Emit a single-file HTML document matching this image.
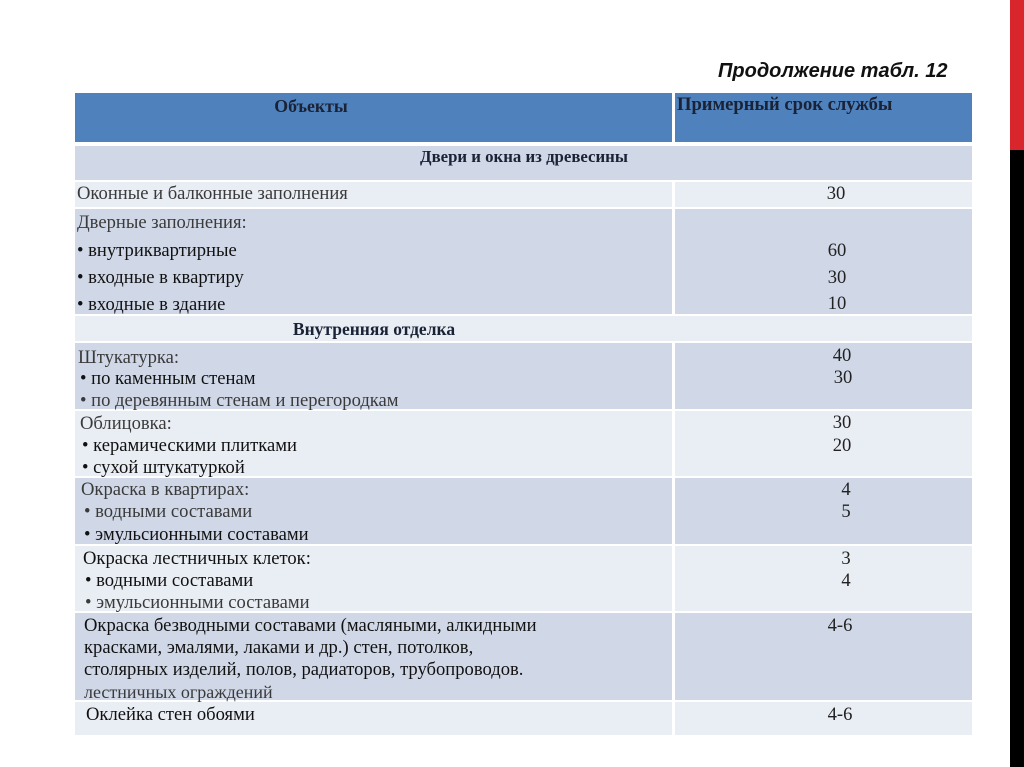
<!DOCTYPE html>
<html><head><meta charset="utf-8"><style>
html,body{margin:0;padding:0;}
body{width:1024px;height:767px;position:relative;background:#fff;overflow:hidden;font-family:"Liberation Serif","DejaVu Serif",serif;}
.r{position:absolute;}
.t{position:absolute;white-space:nowrap;line-height:22px;height:22px;font-size:18.6px;color:#3a3a3a;margin-top:1px;}
.b{color:#111;}
.v{position:absolute;white-space:nowrap;line-height:22px;height:22px;font-size:18.6px;color:#222;width:100px;text-align:center;margin-top:1px;}
.d{background:#d0d8e8;}
.l{background:#e9edf4;}
.h{font-weight:bold;color:#1a2236;}
</style></head><body>
<div class="r" style="left:1010px;top:0;width:14px;height:150px;background:#d9262d"></div>
<div class="r" style="left:1010px;top:150px;width:14px;height:617px;background:#000"></div>
<div class="t" style="left:718px;top:59px;font-family:'Liberation Sans',sans-serif;font-style:italic;font-weight:bold;font-size:20px;color:#111">Продолжение табл. 12</div>

<!-- header -->
<div class="r" style="left:75px;top:93px;width:597px;height:49px;background:#4f81bd"></div>
<div class="r" style="left:675px;top:93px;width:297px;height:49px;background:#4f81bd"></div>
<div class="t h" style="left:211px;width:200px;text-align:center;top:94px;font-size:17.8px">Объекты</div>
<div class="t h" style="left:677px;top:93px;font-size:18.6px">Примерный срок службы</div>

<!-- rows -->
<div class="r d" style="left:75px;top:146px;width:897px;height:34px"></div>
<div class="r l" style="left:75px;top:182px;width:597px;height:25px"></div>
<div class="r l" style="left:675px;top:182px;width:297px;height:25px"></div>
<div class="r d" style="left:75px;top:209px;width:597px;height:105px"></div>
<div class="r d" style="left:675px;top:209px;width:297px;height:105px"></div>
<div class="r l" style="left:75px;top:316px;width:897px;height:25px"></div>
<div class="r d" style="left:75px;top:343px;width:597px;height:66px"></div>
<div class="r d" style="left:675px;top:343px;width:297px;height:66px"></div>
<div class="r l" style="left:75px;top:411px;width:597px;height:65px"></div>
<div class="r l" style="left:675px;top:411px;width:297px;height:65px"></div>
<div class="r d" style="left:75px;top:478px;width:597px;height:66px"></div>
<div class="r d" style="left:675px;top:478px;width:297px;height:66px"></div>
<div class="r l" style="left:75px;top:546px;width:597px;height:65px"></div>
<div class="r l" style="left:675px;top:546px;width:297px;height:65px"></div>
<div class="r d" style="left:75px;top:613px;width:597px;height:87px"></div>
<div class="r d" style="left:675px;top:613px;width:297px;height:87px"></div>
<div class="r l" style="left:75px;top:702px;width:597px;height:33px"></div>
<div class="r l" style="left:675px;top:702px;width:297px;height:33px"></div>

<!-- text left -->
<div class="t h" style="left:0;width:1048px;text-align:center;top:145px;font-size:16.8px">Двери и окна из древесины</div>
<div class="t" style="left:77px;top:182px">Оконные и балконные заполнения</div>
<div class="t" style="left:77px;top:211px">Дверные заполнения:</div>
<div class="t b" style="left:77px;top:239px">• внутриквартирные</div>
<div class="t b" style="left:77px;top:266px">• входные в квартиру</div>
<div class="t b" style="left:77px;top:293px">• входные в здание</div>
<div class="t h" style="left:75px;width:598px;text-align:center;top:317px;font-size:17.5px">Внутренняя отделка</div>
<div class="t" style="left:78px;top:346px">Штукатурка:</div>
<div class="t b" style="left:80px;top:367px">• по каменным стенам</div>
<div class="t" style="left:80px;top:389px">• по деревянным стенам и перегородкам</div>
<div class="t" style="left:80px;top:412px">Облицовка:</div>
<div class="t b" style="left:82px;top:434px">• керамическими плитками</div>
<div class="t b" style="left:82px;top:456px">• сухой штукатуркой</div>
<div class="t" style="left:81px;top:478px">Окраска в квартирах:</div>
<div class="t" style="left:84px;top:500px">• водными составами</div>
<div class="t b" style="left:84px;top:523px">• эмульсионными составами</div>
<div class="t b" style="left:83px;top:547px">Окраска лестничных клеток:</div>
<div class="t b" style="left:85px;top:569px">• водными составами</div>
<div class="t" style="left:85px;top:591px">• эмульсионными составами</div>
<div class="t b" style="left:84px;top:614px">Окраска безводными составами (масляными, алкидными</div>
<div class="t b" style="left:84px;top:636px">красками, эмалями, лаками и др.) стен, потолков,</div>
<div class="t b" style="left:84px;top:658px">столярных изделий, полов, радиаторов, трубопроводов.</div>
<div class="t" style="left:84px;top:680px;font-size:18px">лестничных ограждений</div>
<div class="t b" style="left:86px;top:703px">Оклейка стен обоями</div>

<!-- values -->
<div class="v" style="left:786px;top:182px">30</div>
<div class="v" style="left:787px;top:239px">60</div>
<div class="v" style="left:787px;top:266px">30</div>
<div class="v" style="left:787px;top:292px">10</div>
<div class="v" style="left:792px;top:344px">40</div>
<div class="v" style="left:793px;top:366px">30</div>
<div class="v" style="left:792px;top:411px">30</div>
<div class="v" style="left:792px;top:434px">20</div>
<div class="v" style="left:796px;top:478px">4</div>
<div class="v" style="left:796px;top:500px">5</div>
<div class="v" style="left:796px;top:547px">3</div>
<div class="v" style="left:796px;top:569px">4</div>
<div class="v" style="left:790px;top:614px">4-6</div>
<div class="v" style="left:790px;top:703px">4-6</div>
</body></html>
